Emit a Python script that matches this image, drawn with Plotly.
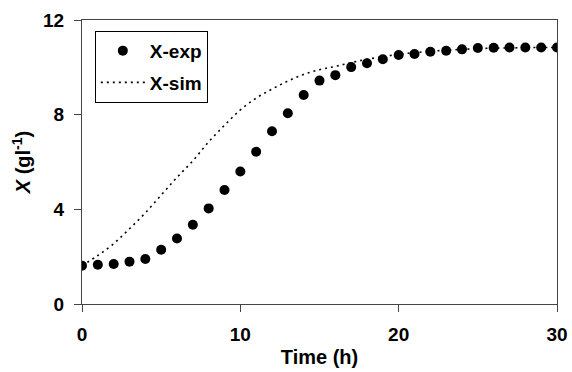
import plotly.graph_objects as go

time_h = list(range(0, 31))
x_exp = [1.62, 1.66, 1.69, 1.79, 1.90, 2.29, 2.77, 3.35, 4.04, 4.82,
         5.60, 6.43, 7.30, 8.06, 8.83, 9.44, 9.67, 10.01, 10.17, 10.34,
         10.52, 10.56, 10.66, 10.70, 10.76, 10.82, 10.83, 10.84, 10.84, 10.84, 10.84]
x_sim = [1.62, 2.05, 2.55, 3.18, 3.85, 4.60, 5.35, 6.05, 6.85, 7.55,
         8.20, 8.70, 9.08, 9.42, 9.70, 9.90, 10.04, 10.20, 10.34, 10.45,
         10.55, 10.62, 10.68, 10.72, 10.76, 10.79, 10.81, 10.82, 10.83, 10.84, 10.84]
x_ticks = [0, 10, 20, 30]
y_ticks = [0, 4, 8, 12]

font_family = "Liberation Sans, Arial, sans-serif"

fig = go.Figure()
fig.add_trace(go.Scatter(
    x=time_h, y=x_exp, mode="markers", name="<b>X-exp</b>",
    marker=dict(color="black", size=10), legendgroup="a"))
fig.add_trace(go.Scatter(
    x=time_h, y=x_sim, mode="lines", name="<b>X-sim</b>",
    line=dict(color="black", width=1.6, dash="2px,4px", shape="spline"),
    legendgroup="b"))

axis_common = dict(showgrid=False, zeroline=False, showline=True, mirror=True,
                   linecolor="#444", linewidth=1.2, ticks="outside", ticklen=7,
                   tickcolor="#444", tickwidth=1.2, automargin=False,
                   tickfont=dict(family=font_family, size=19, color="black"))

fig.update_layout(
    width=572, height=372,
    margin=dict(l=82, r=15, t=20, b=68),
    paper_bgcolor="white", plot_bgcolor="white",
    font=dict(family=font_family, color="black"),
    xaxis=dict(range=[0, 30], tickvals=x_ticks,
               ticktext=[f"<b>{v}</b>" for v in x_ticks],
               ticklabelstandoff=6,
               title=dict(text="<b>Time (h)</b>", font=dict(size=20), standoff=6),
               **axis_common),
    yaxis=dict(range=[0, 12], tickvals=y_ticks,
               ticktext=[f"<b>{v}</b>" for v in y_ticks],
               ticklabelstandoff=6,
               title=dict(text="<b><i>X</i> (gl<sup>-1</sup>)</b>", font=dict(size=20), standoff=6),
               **axis_common),
    legend=dict(x=0.027, y=0.962, xanchor="left", yanchor="top",
                bordercolor="black", borderwidth=1, bgcolor="white",
                font=dict(family=font_family, size=19, color="black"),
                traceorder="grouped", tracegroupgap=4, itemwidth=44),
    showlegend=True,
)

fig.write_html("out.html")
